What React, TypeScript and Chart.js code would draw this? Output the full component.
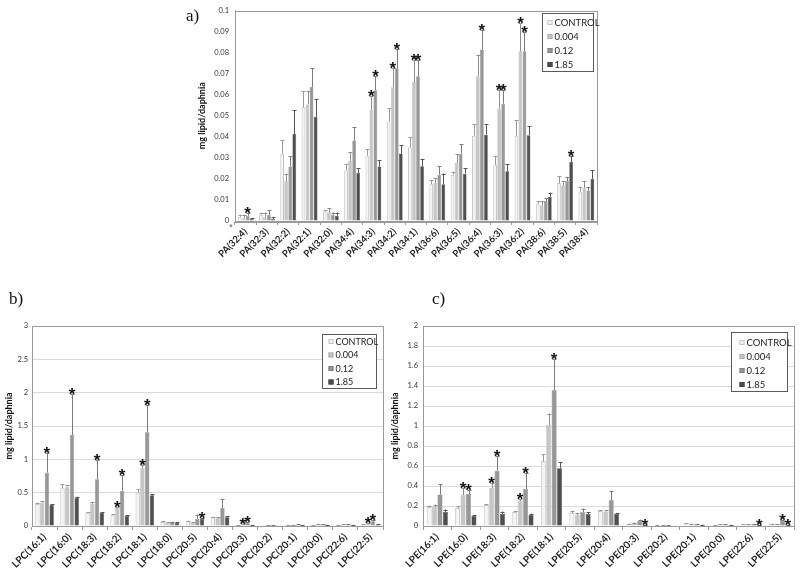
import React, { useEffect, useRef } from "react";
import { Chart, registerables } from "chart.js";
Chart.register(...registerables);

// ---------- shared series ----------
const seriesLabels = ["CONTROL", "0.004", "0.12", "1.85"];
const seriesColors = ["#f4f4f4", "#c6c6c6", "#979797", "#4e4e4e"];
const seriesBorders = ["#c4c4c4", "#adadad", "#828282", "#404040"];
const errColors = ["#9a9a9a", "#8e8e8e", "#7a7a7a", "#555555"];

// ---------- a) PA ----------
const paCategories = ["PA(32:4)", "PA(32:3)", "PA(32:2)", "PA(32:1)", "PA(32:0)", "PA(34:4)", "PA(34:3)", "PA(34:2)", "PA(34:1)", "PA(36:6)", "PA(36:5)", "PA(36:4)", "PA(36:3)", "PA(36:2)", "PA(38:6)", "PA(38:5)", "PA(38:4)"];
const paControl = [0.002, 0.003, 0.032, 0.054, 0.0045, 0.024, 0.031, 0.0473, 0.035, 0.0175, 0.022, 0.0405, 0.0267, 0.0405, 0.008, 0.018, 0.014];
const paControlErr = [0.001, 0.001, 0.0064, 0.0076, 0.0005, 0.0033, 0.003, 0.0062, 0.005, 0.002, 0.0015, 0.0055, 0.0043, 0.0075, 0.0015, 0.0032, 0.0023];
const pa004 = [0.0015, 0.002, 0.019, 0.0554, 0.004, 0.0285, 0.0527, 0.0635, 0.066, 0.018, 0.0275, 0.069, 0.0535, 0.0806, 0.0075, 0.017, 0.0155];
const pa004Err = [0.0015, 0.002, 0.0033, 0.0062, 0.002, 0.0043, 0.0066, 0.0094, 0.0105, 0.0025, 0.0043, 0.01, 0.0089, 0.0134, 0.002, 0.002, 0.0035];
const pa012 = [0.0025, 0.003, 0.0259, 0.0636, 0.003, 0.0382, 0.0621, 0.0727, 0.0688, 0.022, 0.032, 0.0815, 0.0557, 0.0806, 0.0095, 0.019, 0.0145];
const pa012Err = [0.0015, 0.002, 0.0048, 0.0089, 0.001, 0.0064, 0.0067, 0.0089, 0.0077, 0.004, 0.0045, 0.009, 0.0067, 0.0094, 0.0015, 0.002, 0.0015];
const pa185 = [0.001, 0.001, 0.0413, 0.0495, 0.0025, 0.0228, 0.0259, 0.0321, 0.026, 0.0175, 0.0225, 0.041, 0.0236, 0.0407, 0.0115, 0.028, 0.02];
const pa185Err = [0.0005, 0.001, 0.0114, 0.0084, 0.0015, 0.0022, 0.003, 0.0039, 0.0035, 0.005, 0.0025, 0.005, 0.0034, 0.0043, 0.002, 0.003, 0.004];
const paStarsControl = [0, 0, 0, 0, 0, 0, 0, 0, 0, 0, 0, 0, 0, 0, 0, 0, 0];
const paStars004 = [0, 0, 0, 0, 0, 0, 1, 1, 1, 0, 0, 0, 1, 1, 0, 0, 0];
const paStars012 = [1, 0, 0, 0, 0, 0, 1, 1, 1, 0, 0, 1, 1, 1, 0, 0, 0];
const paStars185 = [0, 0, 0, 0, 0, 0, 0, 0, 0, 0, 0, 0, 0, 0, 0, 1, 0];
const paTicks = [0, 0.01, 0.02, 0.03, 0.04, 0.05, 0.06, 0.07, 0.08, 0.09, 0.1];

// ---------- b) LPC ----------
const lpcCategories = ["LPC(16:1)", "LPC(16:0)", "LPC(18:3)", "LPC(18:2)", "LPC(18:1)", "LPC(18:0)", "LPC(20:5)", "LPC(20:4)", "LPC(20:3)", "LPC(20:2)", "LPC(20:1)", "LPC(20:0)", "LPC(22:6)", "LPC(22:5)"];
const lpcControl = [0.33, 0.565, 0.2, 0.16, 0.5, 0.06, 0.07, 0.13, 0.01, 0.005, 0.01, 0.015, 0.015, 0.02];
const lpcControlErr = [0.02, 0.06, 0.01, 0.015, 0.05, 0.01, 0.01, 0.01, 0.005, 0.002, 0.003, 0.003, 0.003, 0.005];
const lpc004 = [0.35, 0.59, 0.33, 0.275, 0.865, 0.05, 0.05, 0.12, 0.02, 0.008, 0.015, 0.02, 0.02, 0.03];
const lpc004Err = [0.02, 0.02, 0.03, 0.015, 0.055, 0.005, 0.01, 0.01, 0.01, 0.003, 0.003, 0.003, 0.003, 0.01];
const lpc012 = [0.8, 1.365, 0.7, 0.53, 1.405, 0.06, 0.11, 0.27, 0.05, 0.01, 0.02, 0.025, 0.025, 0.07];
const lpc012Err = [0.3, 0.61, 0.285, 0.23, 0.405, 0.005, 0.06, 0.13, 0.01, 0.003, 0.005, 0.005, 0.005, 0.02];
const lpc185 = [0.32, 0.425, 0.2, 0.15, 0.46, 0.05, 0.11, 0.13, 0.01, 0.005, 0.01, 0.015, 0.015, 0.02];
const lpc185Err = [0.01, 0.015, 0.01, 0.01, 0.02, 0.005, 0.01, 0.02, 0.002, 0.002, 0.002, 0.002, 0.002, 0.005];
const lpcStarsControl = [0, 0, 0, 0, 0, 0, 0, 0, 0, 0, 0, 0, 0, 0];
const lpcStars004 = [0, 0, 0, 1, 1, 0, 0, 0, 1, 0, 0, 0, 0, 1];
const lpcStars012 = [1, 1, 1, 1, 1, 0, 0, 0, 1, 0, 0, 0, 0, 1];
const lpcStars185 = [0, 0, 0, 0, 0, 0, 1, 0, 0, 0, 0, 0, 0, 0];
const lpcTicks = [0, 0.5, 1, 1.5, 2, 2.5, 3];

// ---------- c) LPE ----------
const lpeCategories = ["LPE(16:1)", "LPE(16:0)", "LPE(18:3)", "LPE(18:2)", "LPE(18:1)", "LPE(20:5)", "LPE(20:4)", "LPE(20:3)", "LPE(20:2)", "LPE(20:1)", "LPE(20:0)", "LPE(22:6)", "LPE(22:5)"];
const lpeControl = [0.19, 0.18, 0.21, 0.14, 0.65, 0.13, 0.15, 0.02, 0.005, 0.025, 0.01, 0.015, 0.02];
const lpeControlErr = [0.015, 0.02, 0.01, 0.01, 0.07, 0.025, 0.01, 0.005, 0.002, 0.005, 0.002, 0.003, 0.005];
const lpe004 = [0.19, 0.31, 0.38, 0.25, 1.01, 0.11, 0.145, 0.03, 0.008, 0.015, 0.015, 0.015, 0.015];
const lpe004Err = [0.025, 0.07, 0.055, 0.02, 0.115, 0.02, 0.015, 0.005, 0.002, 0.003, 0.003, 0.003, 0.003];
const lpe012 = [0.315, 0.32, 0.553, 0.37, 1.36, 0.14, 0.26, 0.05, 0.006, 0.02, 0.015, 0.02, 0.05];
const lpe012Err = [0.105, 0.04, 0.147, 0.157, 0.31, 0.035, 0.09, 0.015, 0.002, 0.003, 0.003, 0.003, 0.01];
const lpe185 = [0.14, 0.1, 0.12, 0.11, 0.577, 0.12, 0.12, 0.01, 0.004, 0.012, 0.01, 0.005, 0.005];
const lpe185Err = [0.025, 0.01, 0.025, 0.015, 0.063, 0.02, 0.01, 0.002, 0.001, 0.002, 0.002, 0.002, 0.002];
const lpeStarsControl = [0, 0, 0, 0, 0, 0, 0, 0, 0, 0, 0, 0, 0];
const lpeStars004 = [0, 1, 1, 1, 0, 0, 0, 0, 0, 0, 0, 0, 0];
const lpeStars012 = [0, 1, 1, 1, 1, 0, 0, 0, 0, 0, 0, 0, 1];
const lpeStars185 = [0, 0, 0, 0, 0, 0, 0, 1, 0, 0, 0, 1, 1];
const lpeTicks = [0, 0.2, 0.4, 0.6, 0.8, 1, 1.2, 1.4, 1.6, 1.8, 2];

const yTitle = "mg lipid/daphnia";

// ---------- plugin: error bars, stars, frame, legend ----------
const decorPlugin = {
  id: "decor",
  afterDatasetsDraw(chart: any, _args: any, opts: any) {
    const ctx = chart.ctx;
    const ys = chart.scales.y;
    const area = chart.chartArea;
    ctx.save();
    chart.data.datasets.forEach((ds: any, i: number) => {
      const meta = chart.getDatasetMeta(i);
      meta.data.forEach((el: any, j: number) => {
        const v = ds.data[j];
        const e = ds.errors[j];
        const top = ys.getPixelForValue(v + e);
        const x = Math.round(el.x) + 0.5;
        ctx.strokeStyle = ds.errColor;
        ctx.lineWidth = 1;
        ctx.beginPath();
        ctx.moveTo(x, el.y);
        ctx.lineTo(x, top);
        ctx.moveTo(x - 2, Math.round(top) + 0.5);
        ctx.lineTo(x + 2, Math.round(top) + 0.5);
        ctx.stroke();
        if (ds.stars[j]) {
          ctx.fillStyle = "#151515";
          ctx.font = 'bold 17px "Liberation Sans"';
          ctx.textAlign = "center";
          ctx.textBaseline = "alphabetic";
          ctx.fillText("*", el.x, top + 6);
        }
      });
    });
    // frame (top & right)
    ctx.strokeStyle = "#9a9a9a";
    ctx.lineWidth = 1;
    ctx.strokeRect(Math.round(area.left) + 0.5, Math.round(area.top) + 0.5, Math.round(area.right - area.left), Math.round(area.bottom - area.top));
    // legend box
    const lg = opts.legend;
    const bx = Math.round(area.right - lg.right - lg.w) + 0.5;
    const by = Math.round(area.top + lg.top) + 0.5;
    ctx.fillStyle = "#ffffff";
    ctx.fillRect(bx, by, lg.w, lg.h);
    ctx.strokeStyle = "#5a5a5a";
    ctx.strokeRect(bx, by, lg.w, lg.h);
    ctx.font = `${lg.fontSize}px Lato`;
    ctx.textBaseline = "middle";
    ctx.textAlign = "left";
    chart.data.datasets.forEach((ds: any, i: number) => {
      const cy = by + lg.first + i * lg.gap;
      ctx.fillStyle = ds.backgroundColor;
      ctx.fillRect(bx + lg.sq, cy - 2.5, 5, 5);
      ctx.strokeStyle = ds.borderColor;
      ctx.strokeRect(bx + lg.sq + 0.5, cy - 2, 4, 4);
      ctx.fillStyle = "#222";
      ctx.fillText(ds.label, bx + lg.sq + 7, cy + 0.5);
    });
    if (opts.note) {
      ctx.fillStyle = "#555";
      ctx.font = '9px "Liberation Sans"';
      ctx.textAlign = "center";
      ctx.fillText(opts.note, area.left - 4, area.bottom + 7);
    }
    ctx.restore();
  },
};

function buildDatasets(values: number[][], errs: number[][], stars: number[][]) {
  return values.map((d, i) => ({
    label: seriesLabels[i],
    data: d,
    errors: errs[i],
    stars: stars[i],
    errColor: errColors[i],
    backgroundColor: seriesColors[i],
    borderColor: seriesBorders[i],
    borderWidth: i === 0 ? 1 : 0.5,
    categoryPercentage: 0.76,
    barPercentage: 0.92,
  }));
}

function fmt(v: number) {
  return String(+Number(v).toFixed(4));
}

function makeConfig(p: any) {
  return {
    type: "bar",
    data: { labels: p.labels, datasets: buildDatasets(p.values, p.errs, p.stars) },
    options: {
      animation: false,
      responsive: false,
      maintainAspectRatio: false,
      layout: { padding: { top: p.padTop, right: p.padRight, left: 0, bottom: 0 } },
      plugins: {
        legend: { display: false },
        tooltip: { enabled: false },
        decor: { legend: p.legend, note: p.note },
      },
      scales: {
        x: {
          afterFit: (s: any) => { s.height = p.xHeight; },
          grid: { offset: true, drawOnChartArea: false, drawTicks: true, tickLength: 4, color: "#9a9a9a" },
          border: { color: "#9a9a9a" },
          ticks: {
            autoSkip: false,
            minRotation: 45,
            maxRotation: 45,
            padding: 1,
            color: "#1e1e1e",
            font: { family: "Lato", size: p.xFont, weight: "bold" },
          },
        },
        y: {
          min: p.ticks[0],
          max: p.ticks[p.ticks.length - 1],
          afterFit: (s: any) => { s.width = p.yWidth; },
          afterBuildTicks: (s: any) => { s.ticks = p.ticks.map((v: number) => ({ value: v })); },
          grid: { display: true, drawOnChartArea: p.gridOn, drawTicks: false, color: "#dcdcdc" },
          border: { color: "#9a9a9a" },
          ticks: {
            padding: p.yPad,
            color: "#333",
            font: { family: "Lato", size: 7.5 },
            callback: (v: any) => fmt(v),
          },
          title: {
            display: true,
            text: yTitle,
            color: "#111",
            font: { family: "Lato", size: 9, weight: "bold" },
            padding: { top: p.titlePad, bottom: 0 },
          },
        },
      },
    },
    plugins: [decorPlugin],
  };
}

function Panel({ rect, params }: { rect: any; params: any }) {
  const ref = useRef<HTMLCanvasElement | null>(null);
  useEffect(() => {
    if (!ref.current) return;
    const chart = new Chart(ref.current, makeConfig(params) as any);
    return () => chart.destroy();
  }, []);
  return (
    <canvas
      ref={ref}
      width={rect.width}
      height={rect.height}
      style={{ position: "absolute", left: rect.left, top: rect.top, width: rect.width, height: rect.height }}
    />
  );
}

const paParams = {
  labels: paCategories,
  values: [paControl, pa004, pa012, pa185],
  errs: [paControlErr, pa004Err, pa012Err, pa185Err],
  stars: [paStarsControl, paStars004, paStars012, paStars185],
  ticks: paTicks,
  padTop: 7, padRight: 3, xHeight: 71, yWidth: 55, yPad: 6, titlePad: 17, xFont: 9.5, gridOn: false,
  legend: { right: 4, top: 2, w: 51, h: 58, first: 9, gap: 14, sq: 5, fontSize: 9.5 },
  note: "*",
};
const lpcParams = {
  labels: lpcCategories,
  values: [lpcControl, lpc004, lpc012, lpc185],
  errs: [lpcControlErr, lpc004Err, lpc012Err, lpc185Err],
  stars: [lpcStarsControl, lpcStars004, lpcStars012, lpcStars185],
  ticks: lpcTicks,
  padTop: 26, padRight: 12, xHeight: 48, yWidth: 32, yPad: 4, titlePad: 4, xFont: 10, gridOn: true,
  legend: { right: 7, top: 8, w: 54, h: 54, first: 7, gap: 13.5, sq: 6, fontSize: 9 },
};
const lpeParams = {
  labels: lpeCategories,
  values: [lpeControl, lpe004, lpe012, lpe185],
  errs: [lpeControlErr, lpe004Err, lpe012Err, lpe185Err],
  stars: [lpeStarsControl, lpeStars004, lpeStars012, lpeStars185],
  ticks: lpeTicks,
  padTop: 26, padRight: 6, xHeight: 48, yWidth: 37, yPad: 5, titlePad: 4, xFont: 10, gridOn: true,
  legend: { right: 7, top: 6, w: 56, h: 59, first: 10, gap: 14, sq: 8, fontSize: 9.5 },
};

const labelStyle: React.CSSProperties = {
  position: "absolute",
  fontFamily: '"Liberation Serif", serif',
  fontSize: 17,
  lineHeight: "17px",
  color: "#111",
};

export default function App() {
  return (
    <div style={{ position: "fixed", left: 0, top: 0, width: 800, height: 574, background: "#fff", overflow: "hidden" }}>
      <Panel rect={{ left: 180, top: 0, width: 420, height: 292 }} params={paParams} />
      <Panel rect={{ left: 0, top: 300, width: 395, height: 274 }} params={lpcParams} />
      <Panel rect={{ left: 386, top: 300, width: 414, height: 274 }} params={lpeParams} />
      <div style={{ ...labelStyle, left: 186, top: 7 }}>a)</div>
      <div style={{ ...labelStyle, left: 9, top: 290 }}>b)</div>
      <div style={{ ...labelStyle, left: 432, top: 290 }}>c)</div>
    </div>
  );
}
